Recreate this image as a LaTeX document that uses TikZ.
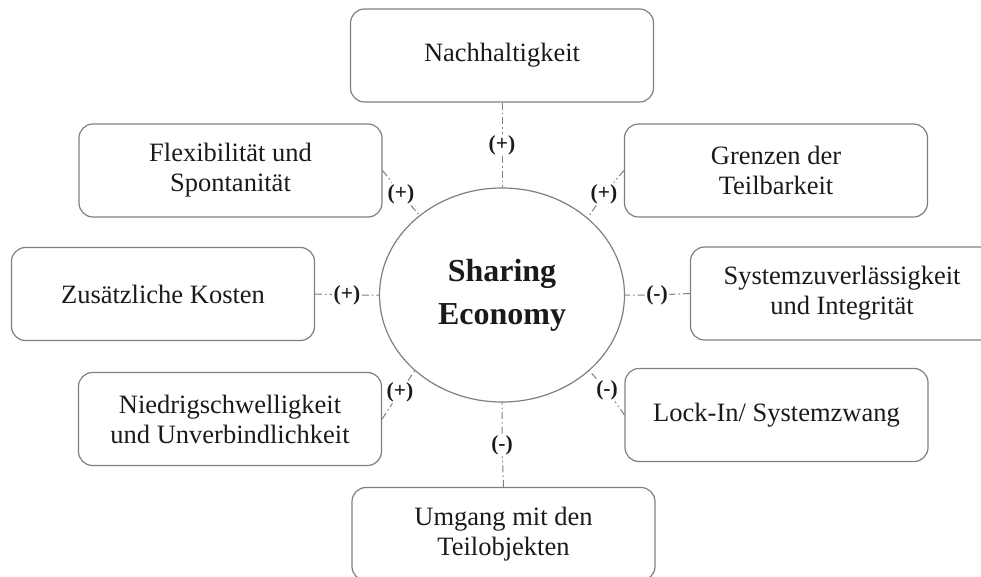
\documentclass[tikz,border=0pt]{standalone}
\usepackage{fontspec}
\setmainfont{Liberation Serif}
\usetikzlibrary{shapes.geometric}
\definecolor{edgegray}{HTML}{7F7F7F}
\definecolor{txt}{HTML}{1A1A1A}
\tikzset{
  factor/.style={draw=edgegray, line width=1.2pt, rounded corners=14pt,
    minimum width=303pt, minimum height=93pt, align=center, text=txt,
    font=\fontsize{26.5}{30}\selectfont, inner sep=0pt},
  hub/.style={draw=edgegray, line width=1.2pt, ellipse, minimum width=245pt,
    minimum height=214pt, align=center, text=txt, inner sep=0pt,
    font=\fontsize{32}{43}\selectfont\bfseries},
  sign/.style={text=txt, font=\fontsize{21.5}{24}\selectfont\bfseries, inner sep=1.5pt},
  link/.style={draw=edgegray, line width=1pt,
    dash pattern=on 7pt off 3pt on 1.5pt off 3pt}
}
\begin{document}
\begin{tikzpicture}[x=1pt, y=-1pt]
\useasboundingbox (0,0) rectangle (981,576);

% central topic
\node[hub] (c) at (502,295) {Sharing\\Economy};

% surrounding factors
\node[factor] (nh) at (502,55.5)  {Nachhaltigkeit};
\node[factor] (fl) at (230.5,170.5) {Flexibilität und\\Spontanität};
\node[factor] (gt) at (776,170.5) {Grenzen der\\Teilbarkeit};
\node[factor] (zk) at (163,294)  {Zusätzliche Kosten};
\node[factor] (sz) at (842,293.5) {Systemzuverlässigkeit\\und Integrität};
\node[factor] (nu) at (230,419)  {Niedrigschwelligkeit\\und Unverbindlichkeit};
\node[factor] (li) at (776.5,415) {Lock-In/ Systemzwang};
\node[factor] (ut) at (503.5,534) {Umgang mit den\\Teilobjekten};

% influence signs
\node[sign] (s1) at (502,145) {(+)};
\node[sign] (s2) at (401,194) {(+)};
\node[sign] (s3) at (604,194) {(+)};
\node[sign] (s4) at (347,295) {(+)};
\node[sign] (s5) at (657,295) {(-)};
\node[sign] (s6) at (400,392) {(+)};
\node[sign] (s7) at (607,390) {(-)};
\node[sign] (s8) at (502,445) {(-)};

% connectors between hub and factors
\draw[link] (nh.south) -- (s1) -- (c.north);
\draw[link] (fl.east) -- (s2) -- (c.136);
\draw[link] (gt.west) -- (s3) -- (c.42);
\draw[link] (zk.east) -- (s4) -- (c.west);
\draw[link] (sz.west) -- (s5) -- (c.east);
\draw[link] (nu.east) -- (s6) -- (c.221);
\draw[link] (li.west) -- (s7) -- (c.319);
\draw[link] (ut.north) -- (s8) -- (c.south);
\end{tikzpicture}
\end{document}
